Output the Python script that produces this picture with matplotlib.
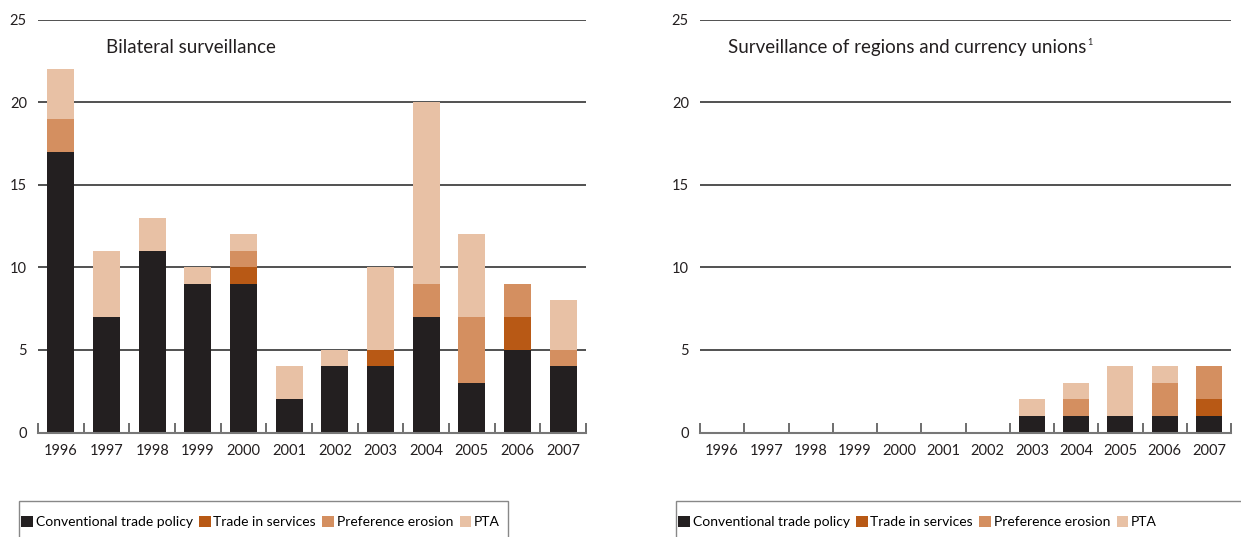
import matplotlib
matplotlib.use("Agg")
import matplotlib.pyplot as plt
import numpy as np
from matplotlib.patches import Patch, Rectangle

plt.rcParams['font.family'] = ['Lato', 'DejaVu Sans']

years = ['1996', '1997', '1998', '1999', '2000', '2001', '2002', '2003', '2004', '2005', '2006', '2007']
series_names = ['Conventional trade policy', 'Trade in services', 'Preference erosion', 'PTA']
colors = ['#231f20', '#b85915', '#d48f60', '#e8c1a5']

# Bilateral surveillance
bil_ctp = [17, 7, 11, 9, 9, 2, 4, 4, 7, 3, 5, 4]
bil_ts = [0, 0, 0, 0, 1, 0, 0, 1, 0, 0, 2, 0]
bil_pe = [2, 0, 0, 0, 1, 0, 0, 0, 2, 4, 2, 1]
bil_pta = [3, 4, 2, 1, 1, 2, 1, 5, 11, 5, 0, 3]

# Surveillance of regions and currency unions
reg_ctp = [0, 0, 0, 0, 0, 0, 0, 1, 1, 1, 1, 1]
reg_ts = [0, 0, 0, 0, 0, 0, 0, 0, 0, 0, 0, 1]
reg_pe = [0, 0, 0, 0, 0, 0, 0, 0, 1, 0, 2, 2]
reg_pta = [0, 0, 0, 0, 0, 0, 0, 1, 1, 3, 1, 0]

yticks = [0, 5, 10, 15, 20, 25]

fig = plt.figure(figsize=(12.41, 5.37), dpi=100)
W, H = 1241, 537

def make_ax(x0, x1, y0, y1):
    return fig.add_axes([x0 / W, 1 - y1 / H, (x1 - x0) / W, (y1 - y0) / H])

ax1 = make_ax(38, 586, 19.5, 432.5)
ax2 = make_ax(700, 1231, 19.5, 432.5)

def draw(ax, data, title, sup=False):
    x = np.arange(len(years))
    bottom = np.zeros(len(years))
    for vals, c in zip(data, colors):
        vals = np.array(vals, dtype=float)
        ax.bar(x, vals, width=0.59, bottom=bottom, color=c, zorder=3, linewidth=0)
        bottom += vals
    ax.set_xlim(-0.5, len(years) - 0.5)
    ax.set_ylim(0, 25)
    ax.set_yticks(yticks)
    ax.set_yticklabels([str(v) for v in yticks], fontsize=10.5, color='#231f20')
    ax.set_xticks(x)
    ax.set_xticklabels(years, fontsize=10.5, color='#231f20')
    ax.set_xticks(np.arange(-0.5, len(years) - 0.4, 1.0), minor=True)
    ax.tick_params(axis='x', which='major', length=0, pad=8)
    ax.tick_params(axis='x', which='minor', direction='in', length=7.5, width=1.2, color='#555555')
    ax.tick_params(axis='y', length=0, pad=8)
    for s in ['top', 'right', 'left']:
        ax.spines[s].set_visible(False)
    ax.spines['bottom'].set_color('#777777')
    ax.spines['bottom'].set_linewidth(1.5)
    ax.spines['bottom'].set_zorder(4)
    for v in yticks[1:]:
        ax.axhline(v, color='#333333', lw=1.2, zorder=1)
    t = ax.text(0.124 if not sup else 0.053, 0.933, title, transform=ax.transAxes,
                fontsize=13.5, color='#231f20', va='center', ha='left')
    if sup:
        ax.annotate('1', xy=(1, 0.8), xycoords=t, fontsize=6.5, color='#231f20',
                    ha='left', va='center', xytext=(0.5, 0), textcoords='offset points')

draw(ax1, [bil_ctp, bil_ts, bil_pe, bil_pta], 'Bilateral surveillance')
draw(ax2, [reg_ctp, reg_ts, reg_pe, reg_pta], 'Surveillance of regions and currency unions', sup=True)

handles = [Patch(facecolor=c, edgecolor='none') for c in colors]
for xl, xr, xs in ((19, 508, 21), (676, 1250, 678)):
    fig.patches.append(Rectangle((xl / W, 1 - 550 / H), (xr - xl) / W, 49 / H,
                                 transform=fig.transFigure, facecolor='none',
                                 edgecolor='#888888', linewidth=1.0))
    fig.legend(handles, series_names, loc='center left',
               bbox_to_anchor=(xs / W, 1 - 522 / H), ncol=4,
               fontsize=10.0, frameon=False,
               handlelength=0.85, handleheight=0.85, handletextpad=0.2,
               columnspacing=0.45, borderpad=0, borderaxespad=0)

fig.savefig('out.png', dpi=100)
